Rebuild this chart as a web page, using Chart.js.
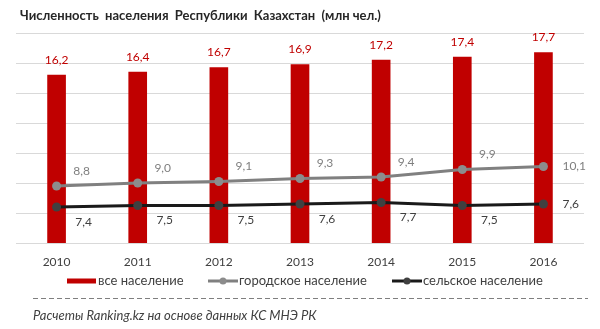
<!DOCTYPE html>
<html>
<head>
<meta charset="utf-8">
<script src="https://cdn.jsdelivr.net/npm/chart.js@4"></script>
<style>
  html, body { margin: 0; padding: 0; background: #fff; }
  #wrap { width: 600px; height: 329px; }
</style>
</head>
<body>
<div id="wrap"><canvas id="pop" width="600" height="329"></canvas></div>
<script>
const years = ['2010', '2011', '2012', '2013', '2014', '2015', '2016'];
const total = [16.2, 16.4, 16.7, 16.9, 17.2, 17.4, 17.7];
const urban = [8.8, 9.0, 9.1, 9.3, 9.4, 9.9, 10.1];
const rural = [7.4, 7.5, 7.5, 7.6, 7.7, 7.5, 7.6];
const seriesNames = ['все население', 'городское население', 'сельское население'];

const titleText = 'Численность  населения  Республики  Казахстан  (млн чел.)';
const sourceText = 'Расчеты Ranking.kz на основе данных КС МНЭ РК';

const FONT = 'Lato, "Open Sans", sans-serif';
const fmt = v => v.toFixed(1).replace('.', ',');

// value labels next to bars and points
const valueLabels = {
    id: 'valueLabels',
    afterDatasetsDraw(chart) {
        const c = chart.ctx;
        c.save();
        c.font = '12px ' + FONT;
        c.textBaseline = 'middle';
        chart.data.datasets.forEach((ds, i) => {
            const meta = chart.getDatasetMeta(i);
            meta.data.forEach((el, j) => {
                const txt = fmt(ds.data[j]);
                const last = j === meta.data.length - 1;
                c.fillStyle = ds.labelColor;
                if (ds.type === 'bar') {
                    c.textAlign = 'center';
                    c.fillText(txt, el.x, el.y - 15);
                } else if (last) {
                    c.textAlign = 'left';
                    c.fillText(txt, el.x + 19, el.y);
                } else {
                    c.textAlign = 'center';
                    c.fillText(txt, el.x + ds.labelDx, el.y + ds.labelDy);
                }
            });
        });
        c.restore();
    }
};

// title, legend row, dashed rule and source note
const frame = {
    id: 'frame',
    afterDraw(chart) {
        const c = chart.ctx;
        const ds = chart.data.datasets;
        c.save();
        c.textBaseline = 'middle';
        c.textAlign = 'left';

        c.font = 'bold 13px ' + FONT;
        c.fillStyle = '#262626';
        c.fillText(titleText, 20, 16);

        const ly = 281;
        const items = [[67, 'bar'], [208, 'line'], [392, 'line']];
        c.font = '13px ' + FONT;
        items.forEach(([x, kind], i) => {
            const d = ds[i];
            if (kind === 'bar') {
                c.fillStyle = d.backgroundColor;
                c.fillRect(x, ly - 2.5, 29, 5);
                c.fillStyle = '#404040';
                c.fillText(d.label, x + 31, ly);
            } else {
                c.strokeStyle = d.borderColor;
                c.lineWidth = 3;
                c.beginPath();
                c.moveTo(x, ly);
                c.lineTo(x + 30, ly);
                c.stroke();
                c.fillStyle = d.pointBackgroundColor;
                c.beginPath();
                c.arc(x + 15, ly, 3.5, 0, Math.PI * 2);
                c.fill();
                c.fillStyle = '#404040';
                c.fillText(d.label, x + 31, ly);
            }
        });

        c.strokeStyle = '#7f7f7f';
        c.lineWidth = 1;
        c.setLineDash([5, 3]);
        c.beginPath();
        c.moveTo(33, 298.5);
        c.lineTo(588, 298.5);
        c.stroke();
        c.setLineDash([]);

        c.font = 'italic 13px ' + FONT;
        c.fillStyle = '#404040';
        c.fillText(sourceText, 33, 316);
        c.restore();
    }
};

new Chart(document.getElementById('pop'), {
    data: {
        labels: years,
        datasets: [
            {
                type: 'bar',
                label: seriesNames[0],
                data: total,
                backgroundColor: '#c00000',
                barThickness: 18,
                labelColor: '#c00000',
                order: 3
            },
            {
                type: 'line',
                label: seriesNames[1],
                data: urban,
                borderColor: '#808080',
                borderWidth: 3,
                pointRadius: 4.5,
                pointBackgroundColor: '#8c8c8c',
                pointBorderColor: '#8c8c8c',
                pointBorderWidth: 0,
                tension: 0,
                labelColor: '#7f7f7f',
                labelDx: 25,
                labelDy: -15,
                order: 2
            },
            {
                type: 'line',
                label: seriesNames[2],
                data: rural,
                borderColor: '#1a1a1a',
                borderWidth: 3,
                pointRadius: 4.5,
                pointBackgroundColor: '#404040',
                pointBorderColor: '#404040',
                pointBorderWidth: 0,
                tension: 0,
                labelColor: '#404040',
                labelDx: 27,
                labelDy: 15,
                order: 1
            }
        ]
    },
    options: {
        responsive: false,
        animation: false,
        devicePixelRatio: 1,
        layout: { padding: { left: 16, right: 16, top: 33, bottom: 61 } },
        plugins: {
            legend: { display: false },
            title: { display: false },
            tooltip: { enabled: false }
        },
        scales: {
            x: {
                grid: { display: false },
                border: { display: false },
                ticks: { color: '#404040', font: { family: FONT, size: 12 }, padding: 4 },
                afterFit: s => { s.height = 25; }
            },
            y: {
                min: 5,
                max: 19,
                ticks: { stepSize: 2, display: false },
                grid: { color: '#d9d9d9', drawTicks: false },
                border: { display: false }
            }
        }
    },
    plugins: [valueLabels, frame]
});
</script>
</body>
</html>
